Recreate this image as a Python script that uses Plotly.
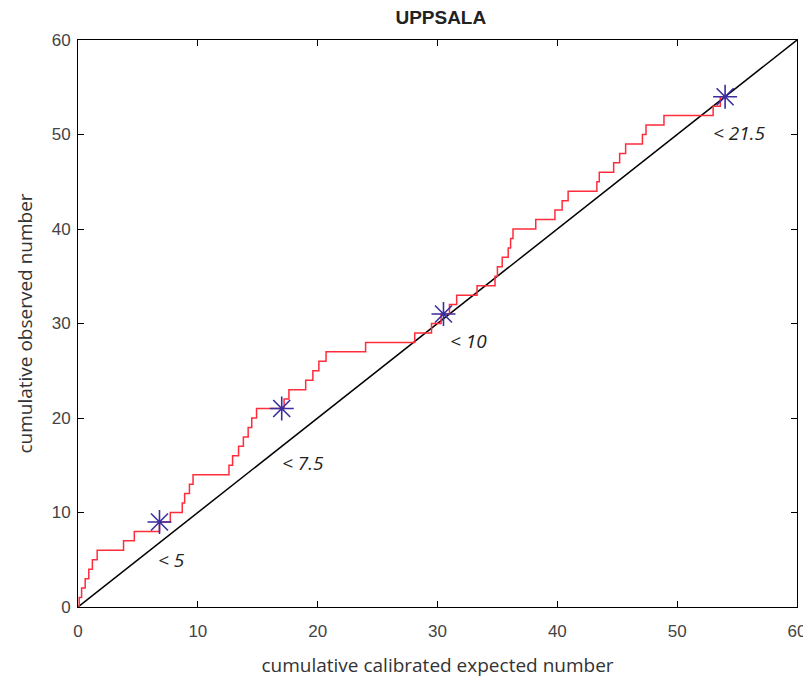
import plotly.graph_objects as go

# expected count (x) at which each observed event occurs; observed count runs 1..54
event_expected = [
    0.1, 0.3, 0.6, 0.9, 1.2, 1.6, 3.8, 4.7, 6.8, 7.7,
    8.7, 8.9, 9.3, 9.6, 12.6, 12.9, 13.4, 13.8, 14.2, 14.5,
    14.9, 17.2, 17.6, 19.0, 19.6, 20.1, 20.7, 24.0, 28.1, 29.5,
    30.3, 31.0, 31.6, 33.3, 34.8, 35.0, 35.4, 35.9, 36.1, 36.3,
    38.2, 39.8, 40.4, 40.9, 43.3, 43.5, 44.7, 45.2, 45.7, 47.1,
    47.4, 48.9, 53.0, 53.6,
]
event_observed = list(range(1, len(event_expected) + 1))

# threshold markers
star_x = [6.8, 17.0, 30.5, 54.0]
star_y = [9, 21, 31, 54]
star_labels = ["< 5", "< 7.5", "< 10", "< 21.5"]
label_x = [7.8, 18.8, 32.6, 55.2]
label_y = [5.0, 15.2, 28.2, 50.2]

step_x = [0] + event_expected + [54.0]
step_y = [0] + event_observed + [54]

fig = go.Figure()

# identity line
fig.add_trace(go.Scatter(x=[0, 60], y=[0, 60], mode="lines",
                         line=dict(color="black", width=1.5), hoverinfo="skip"))

fig.add_trace(go.Scatter(x=step_x, y=step_y, mode="lines", line_shape="hv",
                         line=dict(color="#ff2d3c", width=1.5)))

fig.add_trace(go.Scatter(x=star_x, y=star_y, mode="markers",
                         marker=dict(symbol="asterisk-open", size=20, color="#3a2ea0",
                                     line=dict(color="#3a2ea0", width=1.6))))

for tx, ty, t in zip(label_x, label_y, star_labels):
    fig.add_annotation(x=tx, y=ty, text="<i>" + t + "</i>", showarrow=False,
                       font=dict(family="Open Sans", size=19, color="#222"))

axis_style = dict(
    range=[0, 60], dtick=10, showgrid=False, zeroline=False,
    showline=True, linecolor="black", linewidth=1, mirror="ticks",
    ticks="inside", ticklen=6, tickcolor="black", automargin=False,
    ticklabeloverflow="allow",
    tickfont=dict(family="Liberation Sans", size=17, color="#444"),
)

# page body has an 8px margin, so the figure is offset by that much
fig.update_layout(
    width=803, height=681,
    margin=dict(l=70, r=14, t=32, b=82),
    plot_bgcolor="white", paper_bgcolor="white",
    showlegend=False,
    title=dict(text="<b>UPPSALA</b>", x=0.539, y=0.986, xanchor="center", yanchor="middle",
               font=dict(family="Liberation Sans", size=19, color="#222")),
    xaxis=dict(axis_style, ticklabelstandoff=9,
               title=dict(text="cumulative calibrated expected number",
                          font=dict(family="Open Sans", size=19, color="#333"),
                          standoff=18)),
    yaxis=dict(axis_style, ticklabelstandoff=3,
               title=dict(text="cumulative observed number",
                          font=dict(family="Open Sans", size=19, color="#333"),
                          standoff=14)),
)

fig.write_html("out.html")
